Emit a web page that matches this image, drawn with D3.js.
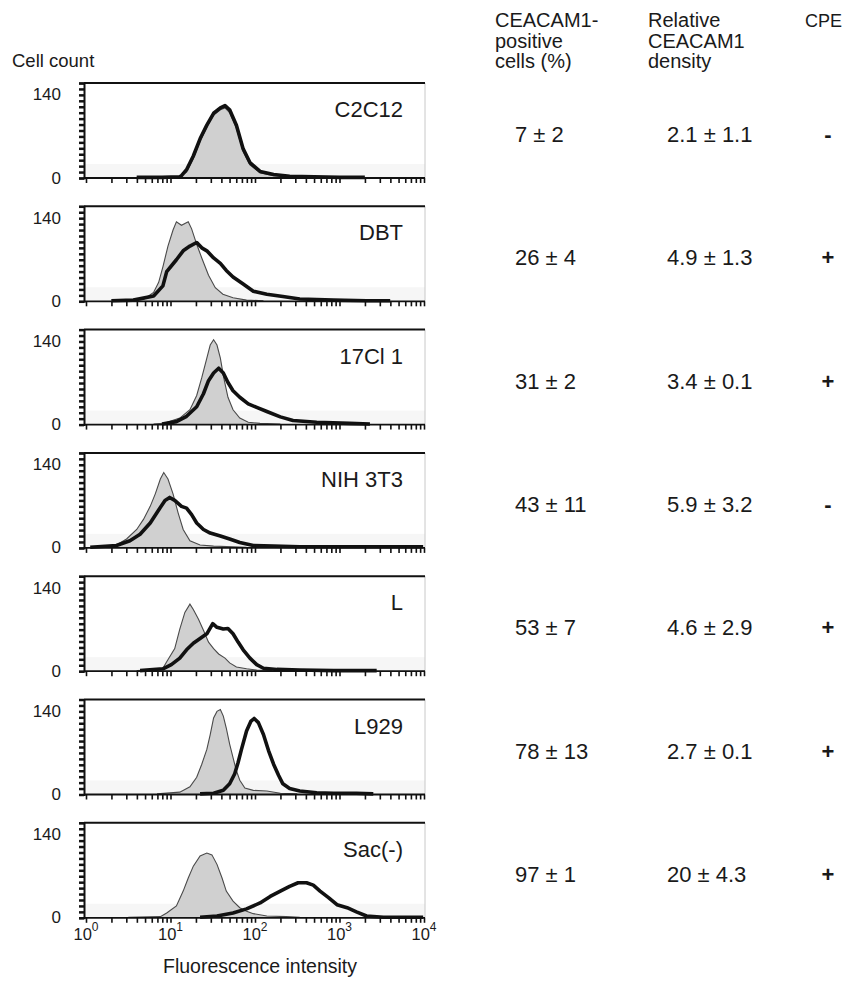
<!DOCTYPE html>
<html><head><meta charset="utf-8">
<script src="https://cdn.jsdelivr.net/npm/d3@7"></script>
<style>body{margin:0;background:#fff;} svg text{font-family:"Liberation Sans", Arial, Helvetica, sans-serif; fill:#1a1a1a;}</style>
</head><body><svg id="chart" width="844" height="981"></svg>
<script>
// ---- data ----
const cellLines = ["C2C12", "DBT", "17Cl 1", "NIH 3T3", "L", "L929", "Sac(-)"];
const positiveCells = ["7 ± 2", "26 ± 4", "31 ± 2", "43 ± 11", "53 ± 7", "78 ± 13", "97 ± 1"];
const relativeDensity = ["2.1 ± 1.1", "4.9 ± 1.3", "3.4 ± 0.1", "5.9 ± 3.2", "4.6 ± 2.9", "2.7 ± 0.1", "20 ± 4.3"];
const cpe = ["-", "+", "+", "-", "+", "+", "+"];
const headerPositive = ["CEACAM1-", "positive", "cells (%)"];
const headerDensity = ["Relative", "CEACAM1", "density"];
const headerCPE = ["CPE"];
const yLabelValues = [0, 140];
const xDecadeExponents = [0, 1, 2, 3, 4];

// histograms: [log10 fluorescence intensity, cell count]
const controlC2C12 = [[0.6,1],[1.0,1],[1.11,3],[1.19,10],[1.27,33],[1.35,62],[1.43,86],[1.51,106],[1.59,115],[1.645,118],[1.70,110],[1.78,84],[1.86,45],[1.94,22],[2.06,9],[2.22,4],[2.41,2],[2.6,1]];
const stainedC2C12 = [[0.6,1],[0.9,1],[1.11,2],[1.13,4],[1.19,14],[1.27,37],[1.35,66],[1.43,89],[1.51,109],[1.59,118],[1.645,122],[1.70,115],[1.78,89],[1.86,49],[1.94,26],[2.06,11],[2.22,6],[2.41,3],[2.7,2],[3.0,1],[3.3,1]];
const controlDBT = [[0.4,1],[0.68,3],[0.80,15],[0.86,32],[0.91,58],[0.97,93],[1.03,120],[1.07,134],[1.13,128],[1.21,134],[1.25,122],[1.31,96],[1.37,73],[1.45,44],[1.53,23],[1.62,12],[1.74,6],[1.90,2],[2.1,1]];
const stainedDBT = [[0.3,1],[0.56,2],[0.80,9],[0.91,26],[0.955,50],[1.07,70],[1.15,85],[1.23,93],[1.31,99],[1.37,90],[1.43,85],[1.51,73],[1.59,64],[1.66,52],[1.74,41],[1.86,29],[1.98,17],[2.14,12],[2.33,8],[2.53,4],[2.73,3],[2.93,2],[3.32,1],[3.6,1]];
const control17Cl1 = [[0.8,1],[0.915,2],[1.11,11],[1.23,25],[1.31,49],[1.37,79],[1.43,112],[1.47,134],[1.51,143],[1.55,134],[1.59,112],[1.63,79],[1.68,46],[1.74,25],[1.82,11],[1.92,4],[2.06,2],[2.3,1]];
const stained17Cl1 = [[0.9,1],[1.07,5],[1.19,14],[1.31,30],[1.39,52],[1.45,74],[1.51,87],[1.57,95],[1.625,87],[1.68,71],[1.74,57],[1.82,46],[1.92,35],[2.02,29],[2.14,22],[2.30,13],[2.45,7],[2.73,4],[3.12,2],[3.36,1]];
const controlNIH3T3 = [[0.1,1],[0.28,2],[0.36,5],[0.48,15],[0.60,31],[0.68,48],[0.76,70],[0.82,91],[0.88,116],[0.92,127],[0.97,116],[1.03,91],[1.09,59],[1.15,31],[1.23,12],[1.35,5],[1.51,3],[1.74,2],[1.9,1]];
const stainedNIH3T3 = [[0.05,1],[0.36,4],[0.52,12],[0.64,23],[0.76,42],[0.86,64],[0.935,80],[0.99,85],[1.05,80],[1.13,70],[1.19,67],[1.25,56],[1.31,42],[1.39,31],[1.47,25],[1.59,20],[1.70,15],[1.82,9],[1.98,4],[2.22,3],[2.53,2],[3.99,2]];
const controlL = [[0.6,1],[0.84,2],[0.91,5],[0.955,16],[1.05,38],[1.11,71],[1.17,99],[1.23,113],[1.27,104],[1.33,88],[1.39,69],[1.45,49],[1.51,38],[1.57,29],[1.645,22],[1.70,14],[1.78,7],[1.90,4],[2.02,2],[2.2,1]];
const stainedL = [[0.64,1],[0.91,4],[1.01,11],[1.11,22],[1.19,36],[1.27,47],[1.35,55],[1.43,63],[1.50,80],[1.55,74],[1.625,71],[1.68,72],[1.74,63],[1.80,49],[1.86,36],[1.94,22],[2.02,11],[2.10,5],[2.26,3],[2.53,2],[2.93,1],[3.44,1]];
const controlL929 = [[0.84,1],[1.11,4],[1.23,13],[1.31,29],[1.37,51],[1.43,76],[1.47,101],[1.51,129],[1.55,140],[1.59,143],[1.625,132],[1.66,112],[1.70,85],[1.74,62],[1.78,40],[1.82,24],[1.88,11],[1.98,7],[2.14,6],[2.30,2],[2.5,1]];
const stainedL929 = [[1.35,1],[1.51,2],[1.625,7],[1.70,18],[1.76,35],[1.80,54],[1.84,76],[1.90,107],[1.95,123],[1.99,128],[2.04,121],[2.10,101],[2.16,74],[2.22,51],[2.28,32],[2.33,18],[2.41,10],[2.53,6],[2.73,3],[2.93,2],[3.20,2],[3.4,1]];
const controlSac = [[0.5,1],[0.88,2],[0.955,8],[1.07,20],[1.15,45],[1.21,67],[1.27,87],[1.35,104],[1.43,109],[1.49,106],[1.55,90],[1.61,67],[1.66,45],[1.74,28],[1.82,17],[1.90,11],[1.98,7],[2.14,3],[2.37,2],[2.53,1]];
const stainedSac = [[1.35,1],[1.55,3],[1.74,8],[1.90,15],[2.06,25],[2.18,36],[2.30,45],[2.41,53],[2.51,59],[2.61,59],[2.69,55],[2.77,45],[2.87,34],[2.97,22],[3.09,17],[3.20,10],[3.32,3],[3.52,1],[3.99,1]];

const controls = [controlC2C12, controlDBT, control17Cl1, controlNIH3T3, controlL, controlL929, controlSac];
const stained = [stainedC2C12, stainedDBT, stained17Cl1, stainedNIH3T3, stainedL, stainedL929, stainedSac];

// ---- layout ----
const svg = d3.select("#chart");
const boxLeft = 84, boxRight = 425;
const firstTop = 83, panelStep = 123.3, panelH = 95;
const x = d3.scaleLog().domain([1, 10000]).range([86, 424]);
const y = d3.scaleLinear().domain([0, 160]).range([panelH, 0]);
const minorTicks = [];
for (let e = 0; e < 4; e++) for (let k = 1; k < 10; k++) minorTicks.push(k * Math.pow(10, e));
minorTicks.push(10000);

svg.append("text").attr("x", 12).attr("y", 67).style("font-size", "18.5px").text("Cell count");

cellLines.forEach((name, i) => {
  const top = firstTop + i * panelStep;
  const g = svg.append("g").attr("transform", `translate(0,${top})`);
  g.append("rect").attr("x", boxLeft).attr("y", panelH - 14).attr("width", boxRight - boxLeft).attr("height", 14).attr("fill", "#f6f6f6");
  g.append("line").attr("x1", boxRight).attr("x2", boxRight).attr("y1", 0).attr("y2", panelH).attr("stroke", "#c8c8c8").attr("stroke-width", 1);

  const area = d3.area().x(d => x(Math.pow(10, d[0]))).y0(y(0)).y1(d => y(d[1])).curve(d3.curveLinear);
  const line = d3.line().x(d => x(Math.pow(10, d[0]))).y(d => y(d[1])).curve(d3.curveLinear);
  g.append("path").datum(controls[i]).attr("d", area).attr("fill", "#d0d0d0");
  g.append("path").datum(controls[i]).attr("d", line).attr("fill", "none").attr("stroke", "#4a4a4a").attr("stroke-width", 1.1);
  g.append("path").datum(stained[i]).attr("d", line).attr("fill", "none").attr("stroke", "#111").attr("stroke-width", 3.6).attr("stroke-linejoin", "round");

  g.append("line").attr("x1", boxLeft).attr("x2", boxRight).attr("y1", 0).attr("y2", 0).attr("stroke", "#111").attr("stroke-width", 2);
  const yAx = g.append("g").attr("transform", `translate(${boxLeft},0)`)
    .call(d3.axisLeft(y).tickValues(d3.range(0, 161, 10)).tickSize(5).tickFormat(""));
  yAx.select(".domain").attr("stroke", "#111").attr("stroke-width", 2);
  yAx.selectAll(".tick line").attr("stroke", "#111").attr("stroke-width", 2.5);
  yLabelValues.forEach(v => {
    g.append("text").attr("x", 61).attr("y", y(v)).attr("text-anchor", "end")
      .attr("dominant-baseline", "central").style("font-size", "17px").text(v);
  });
  const xAx = g.append("g").attr("transform", `translate(0,${panelH})`)
    .call(d3.axisBottom(x).tickValues(minorTicks).tickSize(5).tickSizeOuter(0).tickFormat(""));
  xAx.select(".domain").attr("stroke", "#111").attr("stroke-width", 1.8).attr("d", `M${boxLeft},0H${boxRight}`);
  xAx.selectAll(".tick line").attr("stroke", "#111").attr("stroke-width", 1.6);

  g.append("text").attr("x", 403).attr("y", 34).attr("text-anchor", "end").style("font-size", "22px").text(name);

  g.append("text").attr("x", 515).attr("y", 59).style("font-size", "22px").text(positiveCells[i]);
  g.append("text").attr("x", 667).attr("y", 59).style("font-size", "22px").text(relativeDensity[i]);
  g.append("text").attr("x", 828).attr("y", 59).attr("text-anchor", "middle").style("font-size", "22px").style("font-weight", "bold").text(cpe[i]);

  if (i === cellLines.length - 1) {
    xDecadeExponents.forEach(e => {
      const t = g.append("text").attr("x", x(Math.pow(10, e))).attr("y", panelH + 22).attr("text-anchor", "middle").style("font-size", "16.5px");
      t.append("tspan").text("10");
      t.append("tspan").attr("dy", -9).style("font-size", "12px").text(e);
    });
  }
});

svg.append("text").attr("x", 260).attr("y", 973).attr("text-anchor", "middle").style("font-size", "19.5px").text("Fluorescence intensity");

[[495, headerPositive], [648, headerDensity]].forEach(([hx, lines]) => {
  lines.forEach((s, j) => {
    svg.append("text").attr("x", hx).attr("y", 27 + j * 20.5).style("font-size", "20px").text(s);
  });
});
headerCPE.forEach((s, j) => {
  svg.append("text").attr("x", 842).attr("y", 27 + j * 20.5).attr("text-anchor", "end").style("font-size", "18px").text(s);
});
</script></body></html>
